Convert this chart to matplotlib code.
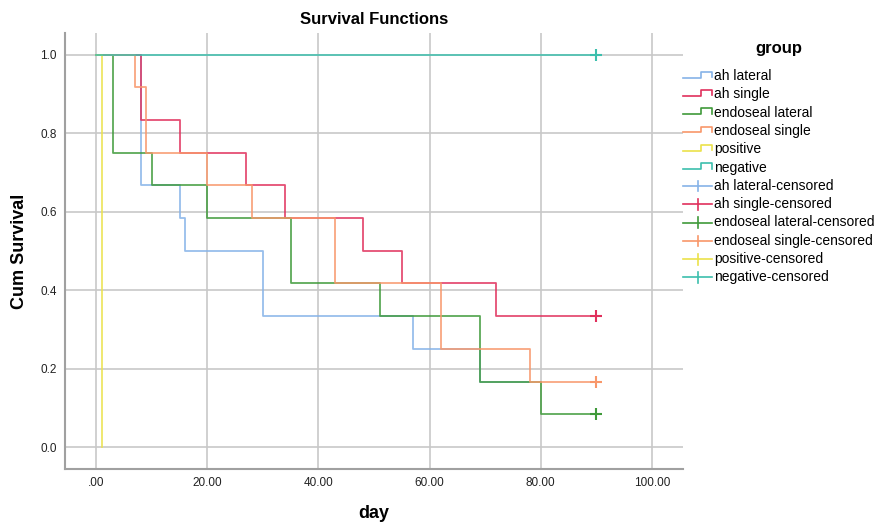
import numpy as np
import matplotlib
matplotlib.use("Agg")
import matplotlib.pyplot as plt
from matplotlib.lines import Line2D
from matplotlib.legend_handler import HandlerBase

plt.rcParams['font.family'] = ['Liberation Sans', 'DejaVu Sans']

# step curves: event times and survival after each step
groups = ["ah lateral", "ah single", "endoseal lateral", "endoseal single", "positive", "negative"]
colors = ["#86b3e8", "#e0305c", "#3f9a3a", "#f8976a", "#ebe24a", "#3cbfad"]

ah_lat_t = [0, 8, 15, 16, 30, 57, 69, 78]
ah_lat_s = [1.0, 0.667, 0.583, 0.5, 0.333, 0.25, 0.167, 0.167]
ah_sin_t = [0, 8, 15, 27, 34, 48, 55, 72, 90]
ah_sin_s = [1.0, 0.833, 0.75, 0.667, 0.583, 0.5, 0.417, 0.333, 0.333]
end_lat_t = [0, 3, 10, 20, 35, 51, 69, 80, 90]
end_lat_s = [1.0, 0.75, 0.667, 0.583, 0.417, 0.333, 0.167, 0.083, 0.083]
end_sin_t = [0, 7, 9, 20, 28, 43, 62, 78, 90]
end_sin_s = [1.0, 0.917, 0.75, 0.667, 0.583, 0.417, 0.25, 0.167, 0.167]
pos_t = [0, 1]
pos_s = [1.0, 0.0]
neg_t = [0, 90]
neg_s = [1.0, 1.0]

curves_t = [ah_lat_t, ah_sin_t, end_lat_t, end_sin_t, pos_t, neg_t]
curves_s = [ah_lat_s, ah_sin_s, end_lat_s, end_sin_s, pos_s, neg_s]

# censored points (time, survival) per group index
cens = {1: (90, 0.333), 2: (90, 0.083), 3: (90, 0.167), 5: (90, 1.0)}

fig = plt.figure(figsize=(8.75, 5.23), dpi=100)
ax = fig.add_axes([0.0743, 0.1033, 0.7063, 0.834])

for t, s, c in zip(curves_t, curves_s, colors):
    ax.step(t, s, where='post', color=c, lw=1.3, alpha=0.85, zorder=3)
for i, (ct, cs) in cens.items():
    ax.plot(ct, cs, marker='+', ms=8, mew=1.5, color=colors[i], zorder=4, ls='none')

ax.set_xlim(-5.6, 105.6)
ax.set_ylim(-0.056, 1.056)
ax.set_xticks(np.arange(0, 101, 20))
ax.set_xticklabels([".00", "20.00", "40.00", "60.00", "80.00", "100.00"])
ax.set_yticks(np.arange(0, 1.01, 0.2))
ax.set_yticklabels(["0.0", "0.2", "0.4", "0.6", "0.8", "1.0"])
ax.tick_params(length=0, labelsize=8.5, colors="#222222", pad=6)
ax.grid(True, color="#c8c8c8", lw=1.2, zorder=0)
for side in ["top", "right"]:
    ax.spines[side].set_visible(False)
for side in ["left", "bottom"]:
    ax.spines[side].set_color("#a0a0a0")
    ax.spines[side].set_linewidth(1.5)

ax.set_title("Survival Functions", fontsize=12, fontweight='bold', pad=6)
ax.set_xlabel("day", fontsize=13, fontweight='bold', va='center')
ax.set_ylabel("Cum Survival", fontsize=13, fontweight='bold', va='center')
ax.xaxis.set_label_coords(0.5, -0.101)
ax.yaxis.set_label_coords(-0.073, 0.5)


class StepHandler(HandlerBase):
    def create_artists(self, legend, orig, xd, yd, w, h, fs, trans):
        x = [xd, xd + 0.6 * w, xd + 0.6 * w, xd + w, xd + w]
        y = [yd + 0.25 * h, yd + 0.25 * h, yd + 0.85 * h, yd + 0.85 * h, yd + 0.3 * h]
        ln = Line2D(x, y, color=orig.get_color(), lw=1.2, transform=trans)
        return [ln]


class CensHandler(HandlerBase):
    def create_artists(self, legend, orig, xd, yd, w, h, fs, trans):
        ln = Line2D([xd, xd + w], [yd + 0.4 * h, yd + 0.4 * h], color=orig.get_color(), lw=1.2, transform=trans)
        vt = Line2D([xd + 0.5 * w, xd + 0.5 * w], [yd - 0.15 * h, yd + 0.95 * h], color=orig.get_color(), lw=1.2, transform=trans)
        return [ln, vt]


step_h = [Line2D([], [], color=c) for c in colors]
cens_h = [Line2D([], [], color=c) for c in colors]
labels = groups + [g + "-censored" for g in groups]
hmap = {h: StepHandler() for h in step_h}
hmap.update({h: CensHandler() for h in cens_h})
fig.legend(step_h + cens_h, labels, handler_map=hmap, loc='upper left',
           bbox_to_anchor=(683 / 875, 1 - 69 / 523), frameon=False, fontsize=10,
           borderpad=0, borderaxespad=0,
           handlelength=2.1, handletextpad=0.14, labelspacing=0.31)
fig.text(779 / 875, 1 - 48 / 523, "group", fontsize=12, fontweight='bold', ha='center', va='center')

fig.savefig("out.png", dpi=100)
